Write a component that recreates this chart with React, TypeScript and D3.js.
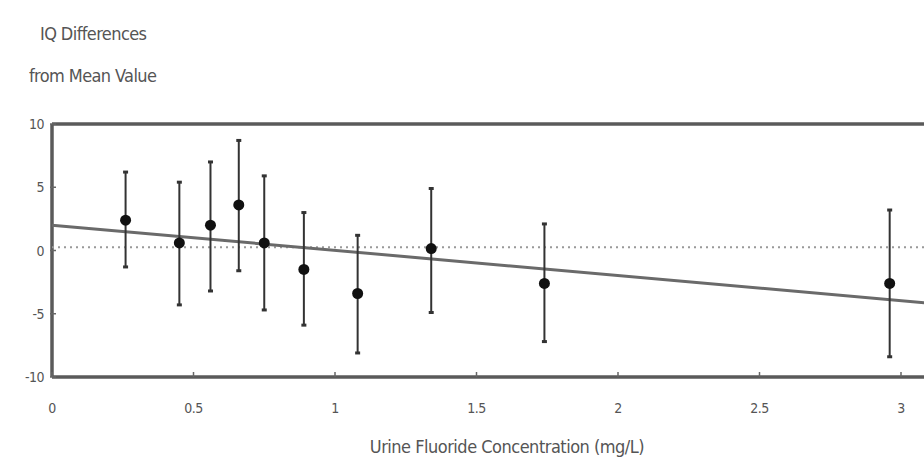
import React from 'react'
import * as d3 from 'd3'

// urine fluoride (mg/L) vs IQ difference, means with error bars
const fluoride = [0.26, 0.45, 0.56, 0.66, 0.75, 0.89, 1.08, 1.34, 1.74, 2.96]
const iqMean = [2.4, 0.6, 2.0, 3.6, 0.6, -1.5, -3.4, 0.15, -2.6, -2.6]
const iqHigh = [6.2, 5.4, 7.0, 8.7, 5.9, 3.0, 1.2, 4.9, 2.1, 3.2]
const iqLow = [-1.3, -4.3, -3.2, -1.6, -4.7, -5.9, -8.1, -4.9, -7.2, -8.4]

// fitted line endpoints
const fitX = [0, 3.12]
const fitY = [2.0, -4.2]

const xTicks = [0, 0.5, 1, 1.5, 2, 2.5, 3]
const yTicks = [10, 5, 0, -5, -10]

const W = 924
const H = 463
const font = '"DejaVu Sans Condensed", "Liberation Sans Narrow", sans-serif'

const App = () => {
  const x = d3.scaleLinear().domain([0, 3]).range([52, 901])
  const y = d3.scaleLinear().domain([-10, 10]).range([377, 124])
  const xEnd = W + 10

  const line = d3.line<number>()
    .x((d, i) => x(fitX[i]))
    .y(d => y(d))

  const points = fluoride.map((f, i) => ({ f, m: iqMean[i], hi: iqHigh[i], lo: iqLow[i] }))

  return (
    <svg width={W} height={H} style={{ position: 'absolute', left: 0, top: 0, background: '#fff' }}>
      {/* axis title */}
      <g fill="#555" fontFamily={font} fontSize={18} letterSpacing={-0.6}>
        <text x={40} y={40}>IQ Differences</text>
        <text x={29} y={82}>from Mean Value</text>
      </g>

      {/* frame */}
      <g stroke="#5a5a5a" strokeWidth={3.5} fill="none">
        <line x1={x(0)} x2={xEnd} y1={y(10)} y2={y(10)} />
        <line x1={x(0)} x2={xEnd} y1={y(-10)} y2={y(-10)} />
        <line x1={x(0)} x2={x(0)} y1={y(10)} y2={y(-10)} />
      </g>

      {/* ticks */}
      <g stroke="#666" strokeWidth={1.5}>
        {xTicks.map(t => (
          <line key={'xt' + t} x1={x(t)} x2={x(t)} y1={y(-10)} y2={y(-10) - 5} />
        ))}
        {yTicks.map(t => (
          <line key={'yt' + t} x1={x(0) - 2} x2={x(0) + 4} y1={y(t)} y2={y(t)} />
        ))}
      </g>

      <g fill="#555" fontFamily={font} fontSize={14} letterSpacing={-0.5}>
        {xTicks.map(t => (
          <text key={'xl' + t} x={x(t)} y={413} textAnchor="middle">{t}</text>
        ))}
        {yTicks.map(t => (
          <text key={'yl' + t} x={44} y={y(t) + 5} textAnchor="end">{t}</text>
        ))}
      </g>

      <text x={507} y={453} textAnchor="middle" fill="#555" fontFamily={font} fontSize={18} letterSpacing={-0.5}>
        Urine Fluoride Concentration (mg/L)
      </text>

      {/* zero reference */}
      <line x1={x(0)} x2={xEnd} y1={y(0.25)} y2={y(0.25)} stroke="#999" strokeWidth={2} strokeDasharray="2,4" />

      {/* fitted line */}
      <path d={line(fitY) || ''} fill="none" stroke="#6a6a6a" strokeWidth={3} />

      {/* error bars and means */}
      {points.map((p, i) => (
        <g key={i}>
          <line x1={x(p.f)} x2={x(p.f)} y1={y(p.hi)} y2={y(p.lo)} stroke="#333" strokeWidth={2} />
          <line x1={x(p.f) - 2.5} x2={x(p.f) + 2.5} y1={y(p.hi)} y2={y(p.hi)} stroke="#333" strokeWidth={3} />
          <line x1={x(p.f) - 2.5} x2={x(p.f) + 2.5} y1={y(p.lo)} y2={y(p.lo)} stroke="#333" strokeWidth={3} />
          <circle cx={x(p.f)} cy={y(p.m)} r={5.5} fill="#111" />
        </g>
      ))}
    </svg>
  )
}

export default App
